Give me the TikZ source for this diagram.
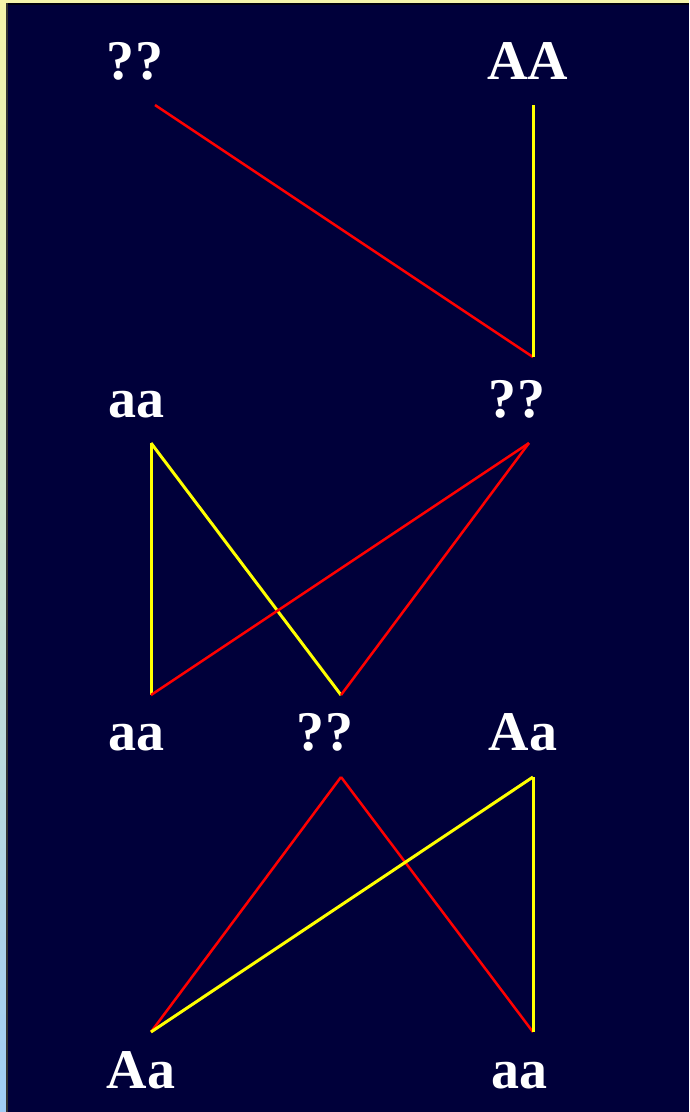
\documentclass[tikz,border=0pt]{standalone}
\usepackage{fontspec}
\setmainfont{Liberation Serif}
\begin{document}
\begin{tikzpicture}[x=1pt,y=-1pt,
  lbl/.style={text=white,font=\bfseries\fontsize{56}{56}\selectfont,anchor=base,inner sep=0pt},
  redln/.style={draw=linered,line width=2.5pt},
  yelln/.style={draw=lineyellow,line width=3pt}]
\definecolor{bgnavy}{RGB}{0,0,58}
\definecolor{linered}{RGB}{255,0,0}
\definecolor{lineyellow}{RGB}{255,255,0}
\definecolor{paleyellow}{RGB}{245,245,170}
\definecolor{paleblue}{RGB}{160,205,245}
\useasboundingbox (0,0) rectangle (689,1112);
\fill[bgnavy] (0,0) rectangle (689,1112);
\shade[top color=paleyellow,bottom color=paleblue] (0,0) rectangle (6,1112);
\fill[paleyellow] (0,0) rectangle (689,3);
\fill[black!80!bgnavy] (6,3) rectangle (689,5);
\fill[black!60!gray] (6,3) rectangle (8,1112);
% labels
\node[lbl] (q1) at (135,79) {?\kern1pt?};
\node[lbl] (AA) at (528,79) {AA};
\node[lbl] (aa1) at (136,417) {aa};
\node[lbl] (q2) at (517,417) {?\kern1pt?};
\node[lbl] (aa2) at (136,750) {aa};
\node[lbl] (q3) at (325,750) {?\kern1pt?};
\node[lbl] (Aa1) at (523,750) {Aa};
\node[lbl] (Aa2) at (141,1088) {Aa};
\node[lbl] (aa3) at (519,1088) {aa};
% line end points
\coordinate (p1) at (155,105);
\coordinate (p2) at (533,105);
\coordinate (p3) at (533,357);
\coordinate (m1) at (151,443);
\coordinate (m2) at (529,443);
\coordinate (m3) at (151,695);
\coordinate (m4) at (341,695);
\coordinate (b1) at (341,777);
\coordinate (b2) at (533,777);
\coordinate (b3) at (151,1032);
\coordinate (b4) at (533,1032);
% lines
\draw[redln] (p1) -- (p3);
\draw[yelln] (p2) -- (p3);
\draw[yelln] (m1) -- (m3);
\draw[yelln] (m1) -- (m4);
\draw[redln] (m2) -- (m3);
\draw[redln] (m2) -- (m4);
\draw[redln] (b1) -- (b3);
\draw[redln] (b1) -- (b4);
\draw[yelln] (b2) -- (b3);
\draw[yelln] (b2) -- (b4);
\end{tikzpicture}
\end{document}
